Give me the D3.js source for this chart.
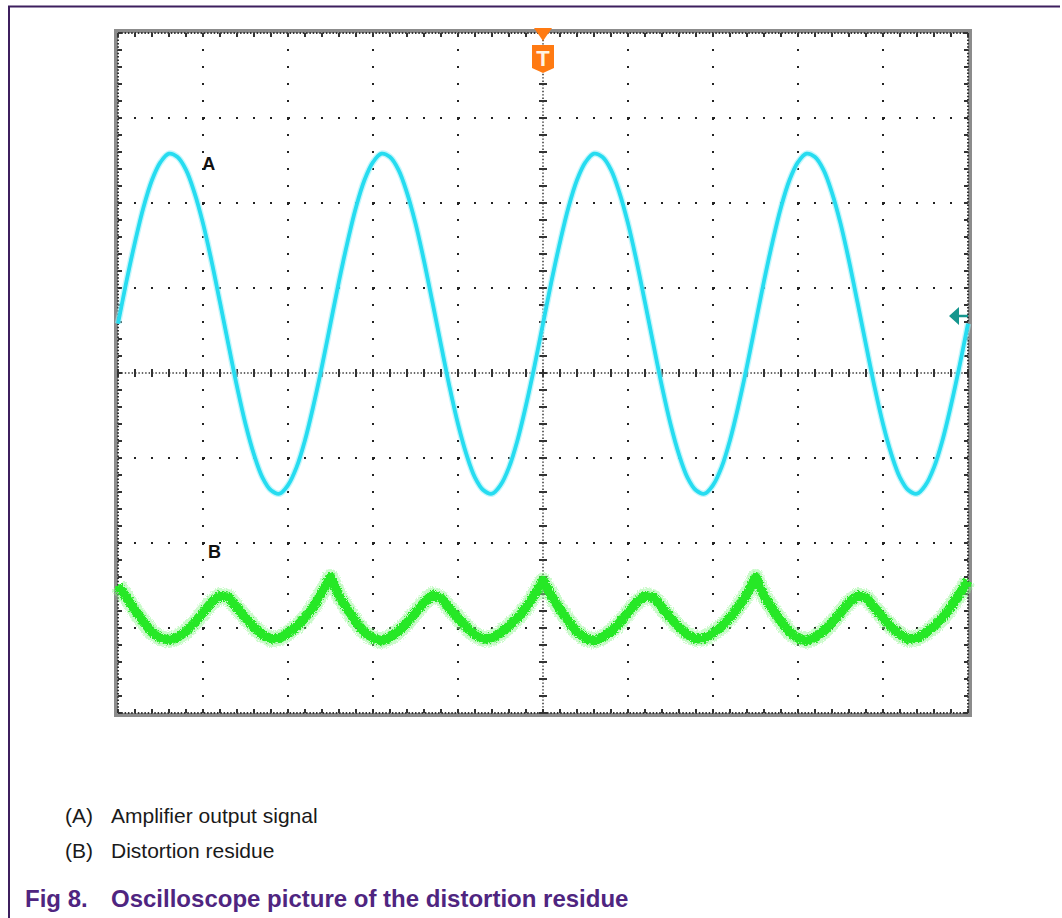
<!DOCTYPE html>
<html>
<head>
<meta charset="utf-8">
<script src="https://cdn.jsdelivr.net/npm/d3@7"></script>
<style>
body { margin: 0; background: #fff; }
svg { display: block; font-family: Arial, "Liberation Sans", sans-serif; }
</style>
</head>
<body>
<svg id="chart"></svg>
<script>
var width = 1062;
var height = 918;

// sample times in divisions (10 div across the screen)
var timeDiv = d3.range(0, 101).map(d => d / 10);

// channel A, amplifier output (divisions)
var signalA = [
    0.58, 1.08, 1.54, 1.95, 2.27, 2.48, 2.58, 2.54, 2.39, 2.12, 1.76, 1.32, 0.83, 0.33, -0.16, -0.60, -0.96, -1.23, -1.38, -1.42, -1.32, -1.11, -0.79, -0.38, 0.08,
    0.58, 1.08, 1.54, 1.95, 2.27, 2.48, 2.58, 2.54, 2.39, 2.12, 1.76, 1.32, 0.83, 0.33, -0.16, -0.60, -0.96, -1.23, -1.38, -1.42, -1.32, -1.11, -0.79, -0.38, 0.08,
    0.58, 1.08, 1.54, 1.95, 2.27, 2.48, 2.58, 2.54, 2.39, 2.12, 1.76, 1.32, 0.83, 0.33, -0.16, -0.60, -0.96, -1.23, -1.38, -1.42, -1.32, -1.11, -0.79, -0.38, 0.08,
    0.58, 1.08, 1.54, 1.95, 2.27, 2.48, 2.58, 2.54, 2.39, 2.12, 1.76, 1.32, 0.83, 0.33, -0.16, -0.60, -0.96, -1.23, -1.38, -1.42, -1.32, -1.11, -0.79, -0.38, 0.08,
    0.58
];

// channel B, distortion residue (divisions)
var signalB = [
    -2.50, -2.64, -2.79, -2.93, -3.05, -3.12, -3.14, -3.11, -3.04, -2.94, -2.82, -2.70, -2.62, -2.64, -2.76, -2.88, -2.99, -3.08, -3.13, -3.12, -3.06, -2.98, -2.88, -2.75, -2.58,
    -2.40, -2.62, -2.78, -2.93, -3.05, -3.12, -3.15, -3.11, -3.04, -2.94, -2.82, -2.70, -2.61, -2.65, -2.77, -2.88, -2.99, -3.08, -3.13, -3.12, -3.06, -2.98, -2.88, -2.76, -2.61,
    -2.44, -2.62, -2.78, -2.92, -3.05, -3.12, -3.15, -3.11, -3.04, -2.94, -2.82, -2.70, -2.62, -2.64, -2.76, -2.88, -2.99, -3.08, -3.13, -3.12, -3.06, -2.98, -2.88, -2.75, -2.60,
    -2.40, -2.62, -2.78, -2.92, -3.05, -3.12, -3.15, -3.11, -3.04, -2.94, -2.82, -2.70, -2.62, -2.64, -2.76, -2.88, -2.99, -3.08, -3.13, -3.12, -3.06, -2.98, -2.88, -2.75, -2.60,
    -2.44
];

var xDivs = [0, 1, 2, 3, 4, 5, 6, 7, 8, 9, 10];
var yDivs = [-4, -3, -2, -1, 0, 1, 2, 3, 4];
var subPerDiv = 5;

var triggerTime = 5;
var groundA = 0.67;
var traceLabels = [
    { name: "A", t: 0.99, v: 2.39 },
    { name: "B", t: 1.06, v: -2.18 }
];
var legendKeys = ["(A)", "(B)"];
var legendTexts = ["Amplifier output signal", "Distortion residue"];
var figNumber = "Fig 8.";
var figTitle = "Oscilloscope picture of the distortion residue";

const svg = d3.select('#chart')
    .attr('width', width)
    .attr('height', height);

const x = d3.scaleLinear().domain([0, 10]).range([118, 968]);
const y = d3.scaleLinear().domain([-4, 4]).range([713, 33]);

// page frame (top and left rule)
svg.append('path')
    .attr('d', 'M9,918 V6.5 H1060')
    .attr('fill', 'none')
    .attr('stroke', '#3d1f5e')
    .attr('stroke-width', 2);

const defs = svg.append('defs');
const fuzz = defs.append('filter').attr('id', 'fuzz')
    .attr('x', '-5%').attr('y', '-30%').attr('width', '110%').attr('height', '160%');
fuzz.append('feTurbulence').attr('type', 'fractalNoise').attr('baseFrequency', 0.8)
    .attr('numOctaves', 1).attr('seed', 4).attr('result', 'noise');
fuzz.append('feDisplacementMap').attr('in', 'SourceGraphic').attr('in2', 'noise')
    .attr('scale', 6).attr('xChannelSelector', 'R').attr('yChannelSelector', 'G');
const soft = defs.append('filter').attr('id', 'soft');
soft.append('feGaussianBlur').attr('stdDeviation', 0.6);

// screen border
svg.append('rect')
    .attr('x', x(0) - 2).attr('y', y(4) - 2)
    .attr('width', x(10) - x(0) + 4).attr('height', y(-4) - y(4) + 4)
    .attr('fill', '#fff')
    .attr('stroke', '#8c8c8c')
    .attr('stroke-width', 4);

const grid = svg.append('g').attr('fill', '#222');
const subX = d3.range(0, 10 * subPerDiv + 1).map(d => d / subPerDiv);
const subY = d3.range(-4 * subPerDiv, 4 * subPerDiv + 1).map(d => d / subPerDiv);

// dotted graticule lines
xDivs.filter(d => d > 0 && d < 10 && d !== 5).forEach(function(xd) {
    grid.selectAll(null)
        .data(subY.filter(v => v > -4 && v < 4))
        .enter().append('rect')
        .attr('x', x(xd) - 1).attr('y', d => y(d) - 1)
        .attr('width', 2).attr('height', d => Number.isInteger(d) ? 3 : 2);
});
yDivs.filter(d => d > -4 && d < 4 && d !== 0).forEach(function(yd) {
    grid.selectAll(null)
        .data(subX.filter(v => v > 0 && v < 10))
        .enter().append('rect')
        .attr('x', d => x(d) - 1).attr('y', y(yd) - 1)
        .attr('width', d => Number.isInteger(d) ? 3 : 2).attr('height', 2);
});

// centre axes with fine dots and sub-division ticks
const axes = svg.append('g').attr('stroke', '#333').attr('fill', 'none');
axes.append('line')
    .attr('x1', x(0)).attr('x2', x(10)).attr('y1', y(0)).attr('y2', y(0))
    .attr('stroke-width', 1.5).attr('stroke-dasharray', '1.4,2');
axes.append('line')
    .attr('x1', x(triggerTime)).attr('x2', x(triggerTime)).attr('y1', y(4)).attr('y2', y(-4))
    .attr('stroke-width', 1.5).attr('stroke-dasharray', '1.4,2');
axes.selectAll('.tx').data(subX).enter().append('line')
    .attr('x1', d => x(d)).attr('x2', d => x(d))
    .attr('y1', y(0) - 4).attr('y2', y(0) + 4)
    .attr('stroke-width', 2);
axes.selectAll('.ty').data(subY).enter().append('line')
    .attr('y1', d => y(d)).attr('y2', d => y(d))
    .attr('x1', x(triggerTime) - 4).attr('x2', x(triggerTime) + 4)
    .attr('stroke-width', 2);

// edge ticks
const edges = svg.append('g').attr('stroke', '#333').attr('fill', 'none');
[[x(0), y(4), x(10), y(4)], [x(0), y(-4), x(10), y(-4)], [x(0), y(4), x(0), y(-4)], [x(10), y(4), x(10), y(-4)]]
    .forEach(function(s) {
        edges.append('line')
            .attr('x1', s[0]).attr('y1', s[1]).attr('x2', s[2]).attr('y2', s[3])
            .attr('stroke-width', 2).attr('stroke-dasharray', '1.5,1.8');
    });
edges.selectAll('.et').data(subX).enter().append('path')
    .attr('d', d => `M${x(d)},${y(4)}v4M${x(d)},${y(-4)}v-4`)
    .attr('stroke-width', 2);
edges.selectAll('.el').data(subY).enter().append('path')
    .attr('d', d => `M${x(0)},${y(d)}h4M${x(10)},${y(d)}h-4`)
    .attr('stroke-width', 2);

// traces
const lineA = d3.line()
    .x((d, i) => x(timeDiv[i]))
    .y(d => y(d))
    .curve(d3.curveCatmullRom);
const lineB = d3.line()
    .x((d, i) => x(timeDiv[i]))
    .y(d => y(d));

svg.append('path').datum(signalB)
    .attr('d', lineB)
    .attr('fill', 'none')
    .attr('stroke', '#8af58a')
    .attr('stroke-width', 16)
    .attr('stroke-opacity', 0.45)
    .attr('stroke-linejoin', 'round')
    .attr('filter', 'url(#fuzz)');
svg.append('path').datum(signalB)
    .attr('d', lineB)
    .attr('fill', 'none')
    .attr('stroke', '#26e826')
    .attr('stroke-width', 9.5)
    .attr('stroke-linejoin', 'round')
    .attr('filter', 'url(#fuzz)');

svg.append('path').datum(signalA)
    .attr('d', lineA)
    .attr('fill', 'none')
    .attr('stroke', '#9ef0f8')
    .attr('stroke-width', 6.5)
    .attr('stroke-opacity', 0.6);
svg.append('path').datum(signalA)
    .attr('d', lineA)
    .attr('fill', 'none')
    .attr('stroke', '#26dcf0')
    .attr('stroke-width', 3.8)
    .attr('filter', 'url(#soft)');

// trace labels
svg.selectAll('.lbl').data(traceLabels).enter().append('text')
    .attr('x', d => x(d.t)).attr('y', d => y(d.v))
    .attr('font-size', 18).attr('font-weight', 'bold').attr('fill', '#111')
    .text(d => d.name);

// trigger marker
const trig = svg.append('g').attr('transform', `translate(${x(triggerTime)},0)`);
trig.append('path')
    .attr('d', `M-9,${y(4) - 5} L9,${y(4) - 5} L0,${y(4) + 8} Z`)
    .attr('fill', '#ff7a12');
trig.append('path')
    .attr('d', `M-11,${y(4) + 12} H11 V${y(4) + 35} L0,${y(4) + 40} L-11,${y(4) + 35} Z`)
    .attr('fill', '#ff7a12');
trig.append('text')
    .attr('x', 0).attr('y', y(4) + 33)
    .attr('text-anchor', 'middle')
    .attr('font-size', 22).attr('font-weight', 'bold')
    .attr('fill', '#fff4e4')
    .text('T');

// channel A ground marker
svg.append('path')
    .attr('d', `M${x(10) - 19},${y(groundA)} l10,-9 v18 Z M${x(10) - 10},${y(groundA) - 1.2} h10 v2.4 h-10 Z`)
    .attr('fill', '#15968e');

// caption
const cap = svg.append('g').attr('font-size', 21).attr('fill', '#1a1a1a');
legendKeys.forEach(function(k, i) {
    cap.append('text').attr('x', 65).attr('y', 823 + i * 35).text(k);
    cap.append('text').attr('x', 111).attr('y', 823 + i * 35).text(legendTexts[i]);
});
svg.append('text').attr('x', 25).attr('y', 907)
    .attr('font-size', 24).attr('font-weight', 'bold').attr('fill', '#4f2580')
    .text(figNumber);
svg.append('text').attr('x', 111).attr('y', 907)
    .attr('font-size', 24).attr('font-weight', 'bold').attr('fill', '#4f2580')
    .text(figTitle);
</script>
</body>
</html>
